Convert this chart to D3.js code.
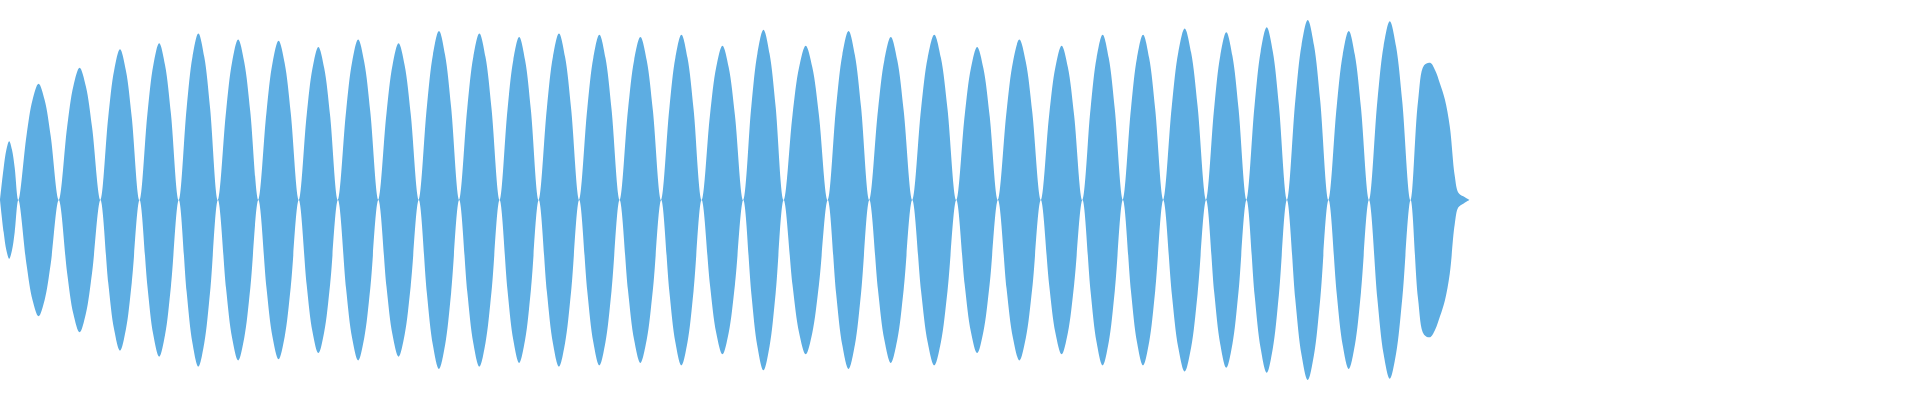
<!DOCTYPE html>
<html><head><meta charset="utf-8">
<script src="https://cdn.jsdelivr.net/npm/d3@7"></script>
<style>body{margin:0;background:#fff}</style></head>
<body><div id="chart"></div>
<script>
// zero crossings of the waveform (time units)
const zeros = [0, 15, 48, 82, 114, 146, 178, 211, 244, 276, 309, 342, 375, 408, 440, 473, 506, 540,
  573, 607, 640, 676, 710, 745, 781, 815, 850, 884, 917, 950, 985, 1018, 1051, 1085, 1118, 1152];
// peak amplitude of each lobe between consecutive zeros
const peaks = [48, 95, 108, 123, 128, 136, 131, 130, 125, 131, 128, 138, 136, 133, 136, 135, 133, 135,
  126, 139, 126, 138, 133, 135, 125, 131, 126, 135, 135, 140, 137, 141, 147, 138, 146];
// decaying tail after the last crossing
const tailT = [1158, 1163, 1168, 1172, 1176, 1180, 1184, 1188, 1191, 1195, 1200];
const tailA = [80, 110, 112, 106, 95, 82, 60, 20, 6, 3, 0];
// lobe shape samples: fraction of the lobe and fraction of its peak
const shapeT = [0.2, 0.35, 0.5, 0.65, 0.8];
const shapeA = [0.55, 0.86, 1, 0.86, 0.55];

const width = 1920, height = 400;
const pts = [];
zeros.forEach((z, i) => {
  pts.push([z, 0]);
  if (i < peaks.length) {
    const w = zeros[i + 1] - z;
    shapeT.forEach((f, k) => pts.push([z + f * w, peaks[i] * shapeA[k]]));
  }
});
tailT.forEach((t, i) => pts.push([t, tailA[i]]));

const x = d3.scaleLinear().domain([0, 1568]).range([0, width]);
const y = d3.scaleLinear().domain([-163.3, 163.3]).range([400, 0]);

const svg = d3.select('#chart').append('svg').attr('width', width).attr('height', height);
svg.append('path')
  .datum(pts)
  .attr('fill', '#5DADE2')
  .attr('d', d3.area().curve(d3.curveCatmullRom)
    .x(d => x(d[0])).y0(d => y(-d[1])).y1(d => y(d[1])));
</script></body></html>
